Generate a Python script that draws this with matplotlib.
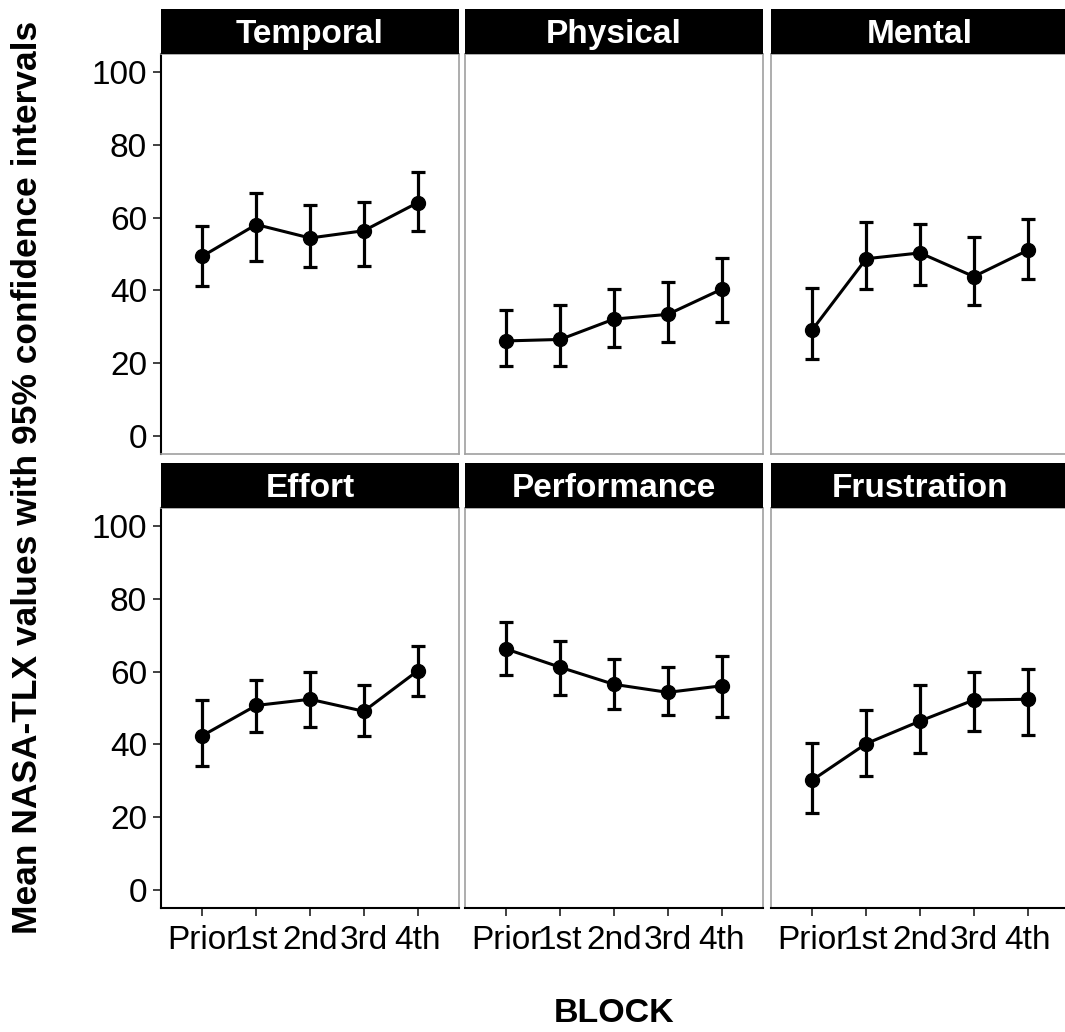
import matplotlib
matplotlib.use('Agg')
import matplotlib.pyplot as plt

plt.rcParams['font.family'] = ['Liberation Sans', 'DejaVu Sans']

blocks = ['Prior', '1st', '2nd', '3rd', '4th']
scales = ['Temporal', 'Physical', 'Mental', 'Effort', 'Performance', 'Frustration']

# means, lower and upper CI bounds
temporal_mean = [49.4, 58.1, 54.4, 56.4, 64.1]
temporal_lo = [41.3, 48.2, 46.4, 46.8, 56.2]
temporal_hi = [57.8, 66.7, 63.5, 64.3, 72.6]

physical_mean = [26.1, 26.5, 32.1, 33.4, 40.3]
physical_lo = [19.3, 19.3, 24.4, 25.8, 31.3]
physical_hi = [34.5, 35.9, 40.5, 42.2, 48.8]

mental_mean = [29.2, 48.7, 50.3, 43.8, 51.0]
mental_lo = [21.2, 40.5, 41.5, 35.9, 43.2]
mental_hi = [40.6, 58.9, 58.3, 54.6, 59.6]

effort_mean = [42.4, 50.7, 52.4, 49.1, 60.2]
effort_lo = [34.0, 43.4, 44.8, 42.2, 53.4]
effort_hi = [52.2, 57.6, 60.0, 56.4, 67.0]

performance_mean = [66.2, 61.2, 56.5, 54.3, 56.1]
performance_lo = [59.1, 53.6, 49.8, 48.0, 47.5]
performance_hi = [73.6, 68.5, 63.6, 61.4, 64.3]

frustration_mean = [30.2, 40.2, 46.4, 52.2, 52.4]
frustration_lo = [21.2, 31.3, 37.5, 43.6, 42.5]
frustration_hi = [40.4, 49.4, 56.3, 60.0, 60.8]

data = {
    'Temporal': (temporal_mean, temporal_lo, temporal_hi),
    'Physical': (physical_mean, physical_lo, physical_hi),
    'Mental': (mental_mean, mental_lo, mental_hi),
    'Effort': (effort_mean, effort_lo, effort_hi),
    'Performance': (performance_mean, performance_lo, performance_hi),
    'Frustration': (frustration_mean, frustration_lo, frustration_hi),
}

W, H = 1065, 1032
fig = plt.figure(figsize=(W / 100, H / 100), dpi=100)

col_x = [161, 465, 771]
pw = 298
row_top = [54, 508]
ph = 400
strip_h = 45
border = '#a0a0a0'
x = list(range(1, 6))

for i, name in enumerate(scales):
    r, c = divmod(i, 3)
    left = col_x[c] / W
    bottom = (H - row_top[r] - ph) / H
    ax = fig.add_axes([left, bottom, pw / W, ph / H])

    mean, lo, hi = data[name]
    yerr = [[m - l for m, l in zip(mean, lo)], [h - m for m, h in zip(mean, hi)]]
    ax.errorbar(x, mean, yerr=yerr, fmt='none', ecolor='black', elinewidth=2.3,
                capsize=5, capthick=2.3, zorder=2)
    ax.plot(x, mean, color='black', lw=2.2, marker='o', markersize=10, zorder=3)

    ax.set_xlim(0.23, 5.77)
    ax.set_ylim(-5, 105)
    ax.set_yticks([0, 20, 40, 60, 80, 100])
    ax.set_xticks(x)
    ax.set_xticklabels(blocks)

    for s in ax.spines.values():
        s.set_color(border)
        s.set_linewidth(1.2)

    ax.tick_params(axis='both', length=6, width=1.3, color='#333333',
                   labelsize=24, pad=4, labelcolor='black')
    ax.tick_params(axis='x', pad=6)
    if c == 0:
        ax.spines['left'].set_color('black')
        ax.spines['left'].set_linewidth(1.5)
    else:
        ax.tick_params(axis='y', left=False, labelleft=False)
    if r == 1:
        ax.spines['bottom'].set_color('black')
        ax.spines['bottom'].set_linewidth(1.5)
    else:
        ax.tick_params(axis='x', bottom=False, labelbottom=False)

    # facet strip
    sax = fig.add_axes([left, (H - row_top[r]) / H, pw / W, strip_h / H])
    sax.set_facecolor('black')
    sax.set_xticks([])
    sax.set_yticks([])
    for s in sax.spines.values():
        s.set_visible(False)
    sax.text(0.5, 0.24, name, color='white', fontsize=24, fontweight='bold',
             ha='center', va='baseline', transform=sax.transAxes)

fig.text(28 / W, 1 - 477 / H, 'Mean NASA-TLX values with 95% confidence intervals',
         rotation=90, ha='center', va='center', fontsize=25.5, fontweight='bold')
fig.text(614 / W, 1 - 1013 / H, 'BLOCK', ha='center', va='center',
         fontsize=24.5, fontweight='bold')

fig.savefig('out.png', dpi=100)
plt.close(fig)
